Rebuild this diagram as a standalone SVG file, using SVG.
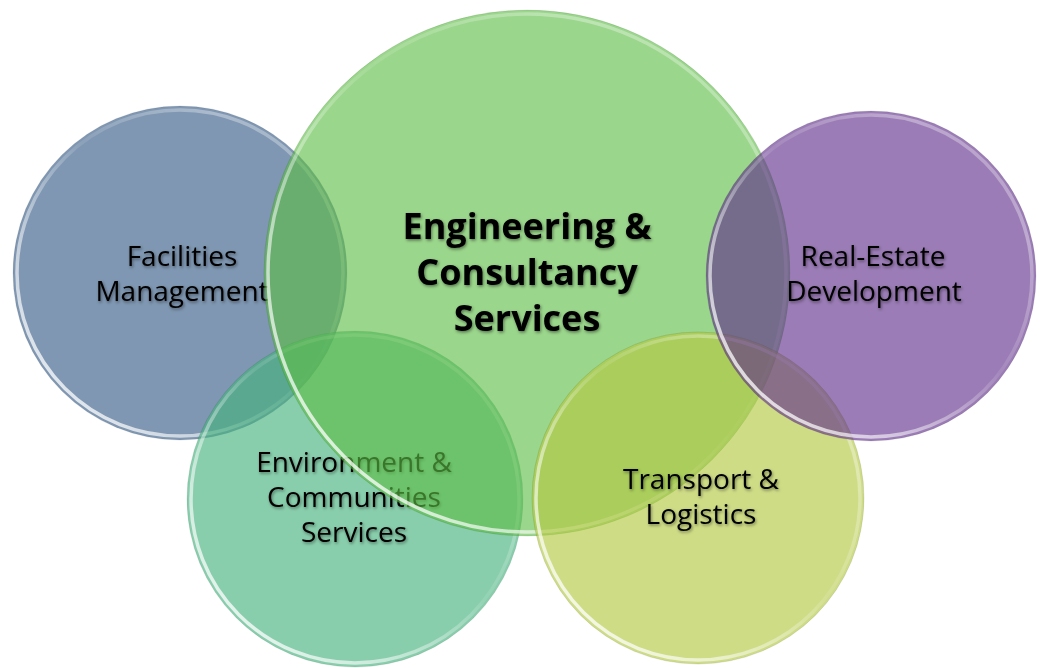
<svg xmlns="http://www.w3.org/2000/svg" width="1048" height="668" viewBox="0 0 1048 668">
<defs>
<linearGradient id="rim" x1="0" y1="1" x2="1" y2="0">
<stop offset="0" stop-color="#fff" stop-opacity="0.95"/>
<stop offset="0.3" stop-color="#fff" stop-opacity="0.55"/>
<stop offset="0.55" stop-color="#fff" stop-opacity="0.1"/>
<stop offset="0.8" stop-color="#fff" stop-opacity="0.35"/>
<stop offset="1" stop-color="#fff" stop-opacity="0.2"/>
</linearGradient>
<filter id="sh" x="-20%" y="-40%" width="140%" height="180%">
<feDropShadow dx="1" dy="1.5" stdDeviation="1.5" flood-color="#000" flood-opacity="0.45"/>
</filter>
</defs>
<style>
.edge{fill:none;stroke:#000;stroke-opacity:0.09;stroke-width:1}
.rim{fill:none;stroke:url(#rim);stroke-width:3.5}
.lbl{font-family:"Open Sans","Liberation Sans",sans-serif;font-size:28px;fill:#000;text-anchor:middle;filter:url(#sh)}
.big{font-family:"Open Sans","Liberation Sans",sans-serif;font-size:36px;font-weight:bold;fill:#000;text-anchor:middle;filter:url(#sh)}
</style>
<g id="facilities">
<circle cx="180" cy="273" r="167" fill="#7f97b2"/>
<circle class="rim" cx="180" cy="273" r="163"/>
<circle class="edge" cx="180" cy="273" r="167"/>
<text class="lbl" x="182" y="266">Facilities</text>
<text class="lbl" x="182" y="301">Management</text>
</g>
<g id="environment">
<circle cx="355" cy="499" r="168" fill="#45b27d" fill-opacity="0.64"/>
<circle class="rim" cx="355" cy="499" r="164"/>
<circle class="edge" cx="355" cy="499" r="168"/>
<text class="lbl" x="354" y="472">Environment &amp;</text>
<text class="lbl" x="354" y="507">Communities</text>
<text class="lbl" x="354" y="542">Services</text>
</g>
<g id="engineering">
<circle cx="527" cy="273" r="263" fill="#5cbd44" fill-opacity="0.62"/>
<circle class="rim" cx="527" cy="273" r="259"/>
<circle class="edge" cx="527" cy="273" r="263"/>
<text class="big" x="527" y="239">Engineering &amp;</text>
<text class="big" x="527" y="285">Consultancy</text>
<text class="big" x="527" y="331">Services</text>
</g>
<g id="transport">
<circle cx="698" cy="498" r="166" fill="#b3c83f" fill-opacity="0.63"/>
<circle class="rim" cx="698" cy="498" r="162"/>
<circle class="edge" cx="698" cy="498" r="166"/>
<text class="lbl" x="701" y="489">Transport &amp;</text>
<text class="lbl" x="701" y="524">Logistics</text>
</g>
<g id="realestate">
<circle cx="871" cy="276" r="165" fill="#5e2c89" fill-opacity="0.62"/>
<circle class="rim" cx="871" cy="276" r="161"/>
<circle class="edge" cx="871" cy="276" r="165"/>
<text class="lbl" x="873" y="266">Real-Estate</text>
<text class="lbl" x="874" y="301">Development</text>
</g>
<g id="connectors"/>
</svg>
